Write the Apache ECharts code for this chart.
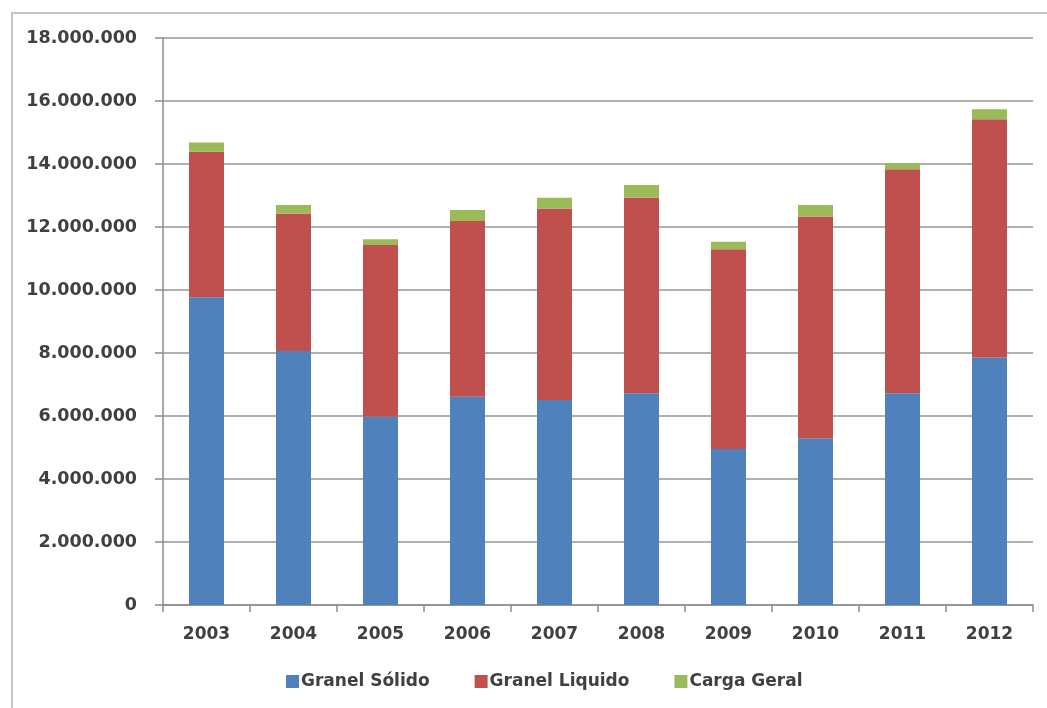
<!DOCTYPE html>
<html>
<head>
<meta charset="utf-8">
<script src="https://cdn.jsdelivr.net/npm/echarts@6/dist/echarts.min.js"></script>
<style>
html,body{margin:0;padding:0;background:#fff;}
#chart{width:1047px;height:708px;}
</style>
</head>
<body>
<div id="chart"></div>
<script>
const years = ['2003','2004','2005','2006','2007','2008','2009','2010','2011','2012'];
const granelSolido  = [9770000, 8060000, 5980000, 6610000, 6510000, 6720000, 4950000, 5290000, 6720000, 7860000];
const granelLiquido = [4620000, 4370000, 5450000, 5580000, 6080000, 6220000, 6340000, 7040000, 7110000, 7560000];
const cargaGeral    = [290000, 270000, 180000, 350000, 340000, 390000, 240000, 370000, 190000, 320000];
const seriesNames = ['Granel Sólido', 'Granel Liquido', 'Carga Geral'];

function fmt(v){ return String(v).replace(/\B(?=(\d{3})+(?!\d))/g, '.'); }

const chart = echarts.init(document.getElementById('chart'));
const font = 'DejaVu Sans';
const colors = ['#4F81BD', '#C0504D', '#9BBB59'];
const data = [granelSolido, granelLiquido, cargaGeral];

chart.setOption({
  animation: false,
  color: colors,
  graphic: [{
    type: 'polyline',
    shape: { points: [[12, 708], [12, 13], [1047, 13]] },
    style: { stroke: '#c4c4c4', lineWidth: 2, fill: null }
  }],
  grid: { left: 163, right: 14, top: 38, bottom: 103 },
  legend: {
    left: 281, top: 668,
    itemWidth: 13, itemHeight: 13, itemGap: 45,
    icon: 'rect',
    textStyle: { fontFamily: font, fontWeight: 'bold', fontSize: 17, color: '#404040', padding: [0,0,0,-3] },
    data: seriesNames
  },
  xAxis: {
    type: 'category',
    data: years,
    axisLine: { lineStyle: { color: '#8c8c8c', width: 1.5 } },
    axisTick: { show: true, length: 7, lineStyle: { color: '#8c8c8c', width: 1.5 } },
    axisLabel: { margin: 21, fontFamily: font, fontWeight: 'bold', fontSize: 17, color: '#404040' }
  },
  yAxis: {
    type: 'value',
    min: 0, max: 18000000, interval: 2000000,
    axisLine: { show: true, lineStyle: { color: '#8c8c8c', width: 1.5 } },
    axisTick: { show: true, length: 8, lineStyle: { color: '#8c8c8c', width: 1.5 } },
    splitLine: { lineStyle: { color: '#b0b0b0', width: 2 } },
    axisLabel: { margin: 26, fontFamily: font, fontWeight: 'bold', fontSize: 17.5, color: '#404040', formatter: fmt }
  },
  series: seriesNames.map((n, i) => ({
    name: n, type: 'bar', stack: 'total', barWidth: 35,
    data: data[i]
  }))
});
</script>
</body>
</html>
